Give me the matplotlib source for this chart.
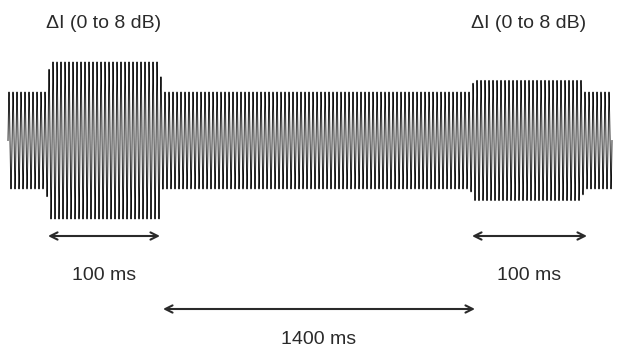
import numpy as np
import matplotlib
matplotlib.use('Agg')
import matplotlib.pyplot as plt

# schematic time axis (arbitrary units along the trace)
seg_edges = [8, 48, 161, 472, 583, 612]
seg_amp = [1.0, 1.62, 1.0, 1.24, 1.0]
period = 4.0

label_top = ['\u0394I (0 to 8 dB)', '\u0394I (0 to 8 dB)']
label_top_x = [104, 529]
dur_labels = ['100 ms', '100 ms', '1400 ms']
dur_spans = [(48, 160), (472, 587), (163, 475)]
dur_rows = [0, 0, 1]

plt.rcParams['font.family'] = ['Liberation Sans', 'DejaVu Sans']

fig = plt.figure(figsize=(6.2, 3.46), dpi=100)
ax = fig.add_axes([0, 0, 1, 1])
ax.set_xlim(0, 620)
ax.set_ylim(346, 0)
ax.axis('off')

# envelope with short ramps at the steps
t = np.linspace(seg_edges[0], seg_edges[-1], 12000)
env = np.interp(t, [seg_edges[0]] + sum([[e - 2, e + 2] for e in seg_edges[1:-1]], []) + [seg_edges[-1]],
                sum([[a, a] for a in seg_amp], []))
center = 140.5
scale = 48.5
y = center - scale * env * np.sin(2 * np.pi * (t - seg_edges[0]) / period)
ax.plot(t, y, color='#111111', lw=0.65)

for txt, x in zip(label_top, label_top_x):
    ax.text(x, 24, txt, ha='center', va='center', fontsize=14, color='#2a2a2a')

row_y = [236, 309]
text_y = [276, 339]
for txt, (x0, x1), r in zip(dur_labels, dur_spans, dur_rows):
    ax.annotate('', xy=(x0, row_y[r]), xytext=(x1, row_y[r]),
                arrowprops=dict(arrowstyle='<->', lw=1.5, color='#2a2a2a',
                                mutation_scale=13, shrinkA=0, shrinkB=0))
    ax.text((x0 + x1) / 2, text_y[r], txt, ha='center', va='center',
            fontsize=14, color='#2a2a2a')

fig.savefig('out.png', dpi=100, facecolor='white')
